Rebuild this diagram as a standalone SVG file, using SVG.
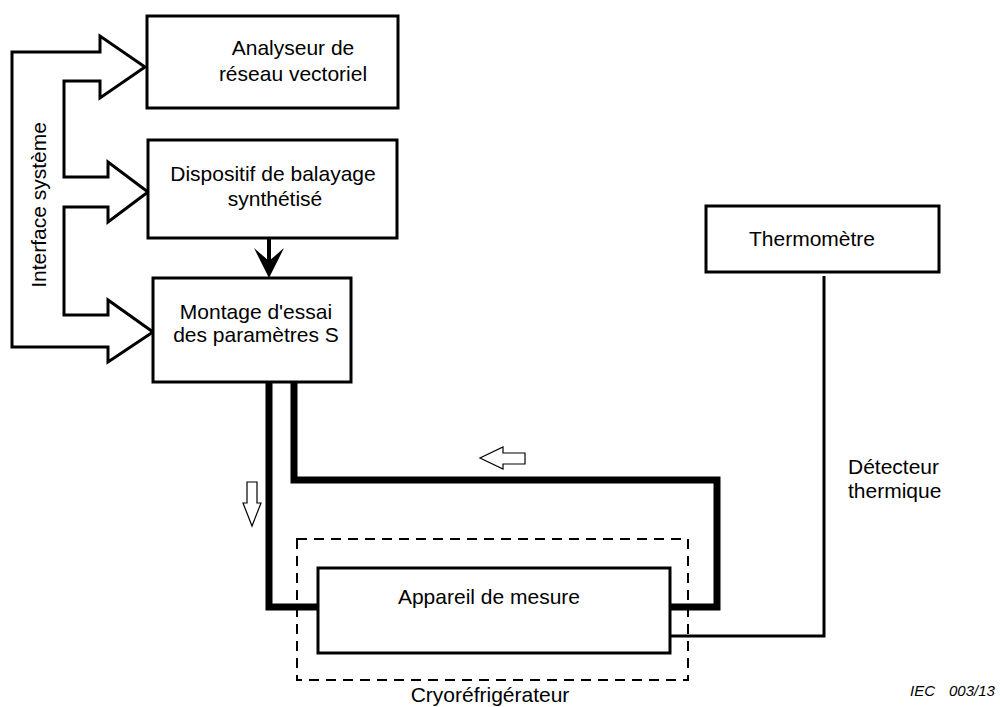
<svg xmlns="http://www.w3.org/2000/svg" width="1000" height="707" viewBox="0 0 1000 707">
<style>
.box{fill:#fff;stroke:#000;stroke-width:3}
.t{font-family:"Liberation Sans",Arial,sans-serif;font-size:21px;fill:#000;text-anchor:middle}
.thin{fill:#fff;stroke:#000;stroke-width:1.2}
</style>
<rect width="1000" height="707" fill="#fff"/>
<g id="connectors">
  <path d="M12,52 L100,52 L100,36 L145,67 L100,98 L100,81 L64,81 L64,177 L108,177 L108,162 L148,192 L108,222 L108,207 L64,207 L64,315 L108,315 L108,300 L153,332 L108,362 L108,347 L12,347 Z" fill="none" stroke="#000" stroke-width="3"/>
  <line x1="269" y1="238" x2="269" y2="262" stroke="#000" stroke-width="4"/>
  <path d="M254,248 L269,261 L284,248 L269,278 Z" fill="#000"/>
  <path d="M269,382 L269,607 L320,607" fill="none" stroke="#000" stroke-width="7"/>
  <path d="M294,382 L294,480 L717,480 L717,607 L670,607" fill="none" stroke="#000" stroke-width="7"/>
  <path d="M670,636 L824,636 L824,276" fill="none" stroke="#000" stroke-width="3"/>
  <path class="thin" d="M247,482 L257,482 L257,503 L261,503 L252,526 L243,503 L247,503 Z"/>
  <path class="thin" d="M525,453 L503,453 L503,447 L480,458 L503,469 L503,464 L525,464 Z"/>
</g>
<g id="interface">
  <text class="t" transform="translate(46,205) rotate(-90)">Interface système</text>
</g>
<g id="analyseur">
  <rect class="box" x="147" y="16" width="251" height="92"/>
  <text class="t" x="293" y="55">Analyseur de</text>
  <text class="t" x="293" y="81">réseau vectoriel</text>
</g>
<g id="dispositif">
  <rect class="box" x="148" y="140" width="249" height="98"/>
  <text class="t" x="273" y="181">Dispositif de balayage</text>
  <text class="t" x="275" y="206">synthétisé</text>
</g>
<g id="montage">
  <rect class="box" x="153" y="278" width="198" height="104"/>
  <text class="t" x="256" y="319">Montage d'essai</text>
  <text class="t" x="256" y="342">des paramètres S</text>
</g>
<g id="cryo">
  <rect x="297" y="539" width="391" height="141" fill="none" stroke="#000" stroke-width="2" stroke-dasharray="10 7"/>
  <text class="t" x="490" y="702">Cryoréfrigérateur</text>
</g>
<g id="appareil">
  <rect class="box" x="318" y="568" width="352" height="85"/>
  <text class="t" x="489" y="604">Appareil de mesure</text>
</g>
<g id="thermometre">
  <rect class="box" x="706" y="206" width="233" height="66"/>
  <text class="t" x="812" y="246">Thermomètre</text>
</g>
<g id="labels">
  <text class="t" x="848" y="474" style="text-anchor:start">Détecteur</text>
  <text class="t" x="848" y="498" style="text-anchor:start">thermique</text>
  <text x="910" y="696" font-family="Liberation Sans, Arial, sans-serif" font-size="15" font-style="italic">IEC</text>
  <text x="949" y="696" font-family="Liberation Sans, Arial, sans-serif" font-size="15" font-style="italic">003/13</text>
</g>
</svg>
